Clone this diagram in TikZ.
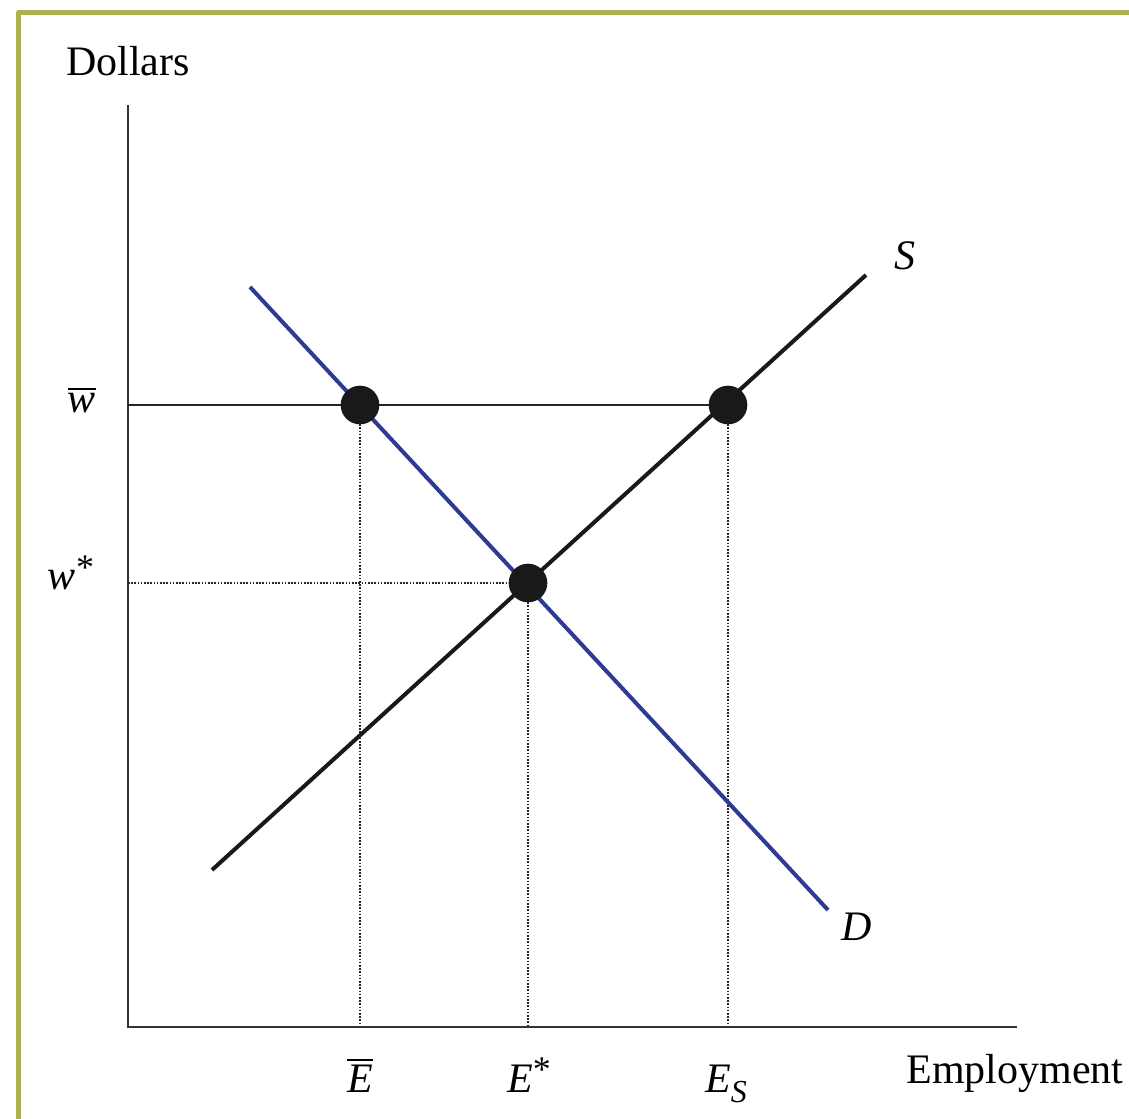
\documentclass[tikz,border=0pt]{standalone}
\usepackage{amsmath}
\usepackage{fontspec}
\setmainfont{Liberation Serif}
\usetikzlibrary{positioning,calc}
\definecolor{framegreen}{RGB}{176,176,80}
\definecolor{demandblue}{RGB}{48,58,150}
\newcommand{\starmark}{\raisebox{8pt}{\fontsize{27}{27}\selectfont *}}

\begin{document}
\begin{tikzpicture}[
  x=0.75pt,y=-0.75pt,
  axis/.style={draw=black!80,line width=2.1pt},
  curve/.style={line width=3pt},
  guide/.style={draw=black!85,line width=1.5pt,dash pattern=on 1.2pt off 1.2pt},
  dot/.style={circle,fill=black!90,inner sep=0pt,minimum size=29pt},
  lab/.style={anchor=base,inner sep=0pt,font=\fontsize{31.5}{38}\selectfont}
]
\useasboundingbox (0,0) rectangle (1129,1119);
\draw[framegreen,line width=3.75pt,line join=round] (18.5,1125) -- (18.5,12.5) -- (1135,12.5);

% axes
\coordinate (origin) at (128,1027);
\coordinate (ytop) at (128,105);
\coordinate (xend) at (1017,1027);
\draw[axis] (ytop) -- (origin) -- (xend);

% curves
\coordinate (dtop) at (250,287);
\coordinate (dbot) at (828,910);
\coordinate (sbot) at (212,870);
\coordinate (stop) at (866,275);
\coordinate (wbar) at (128,405);
\coordinate (wstar) at (128,583);
\coordinate (pbar) at (360,405);
\coordinate (pstar) at (528,583);
\coordinate (psup) at (728,405);

\draw[guide] (wstar) -- (pstar);
\draw[guide] (pbar) -- (pbar |- origin);
\draw[guide] (pstar) -- (pstar |- origin);
\draw[guide] (psup) -- (psup |- origin);
\draw[draw=black!85,line width=1.6pt] (wbar) -- (psup);
\draw[curve,demandblue] (dtop) -- (dbot);
\draw[curve,black!90] (sbot) -- (stop);

\node[dot] (ebar) at (pbar) {};
\node[dot] (estar) at (pstar) {};
\node[dot] (esup) at (psup) {};

% labels
\node[lab] (dollars) at (128,76) {Dollars};
\node[lab] (employment) at (1015,1083) {Employment};
\node[lab] (slab) at (905,270) {\textit{S}};
\node[lab] (dlab) at (857,940) {\textit{D}};
\node[lab] (wbarlab) at (82,413) {$\overline{\textit{w}}$};
\node[lab] (wstarlab) at (71,590) {\textit{w}\starmark};
\node[lab] (ebarlab) at (360,1092) {$\overline{\textit{E}}$};
\node[lab] (estarlab) at (529,1092) {\textit{E}\starmark};
\node[lab] (eslab) at (726,1092) {\textit{E}\raisebox{-7.5pt}{\fontsize{24}{24}\selectfont\textit{S}}};
\end{tikzpicture}
\end{document}
